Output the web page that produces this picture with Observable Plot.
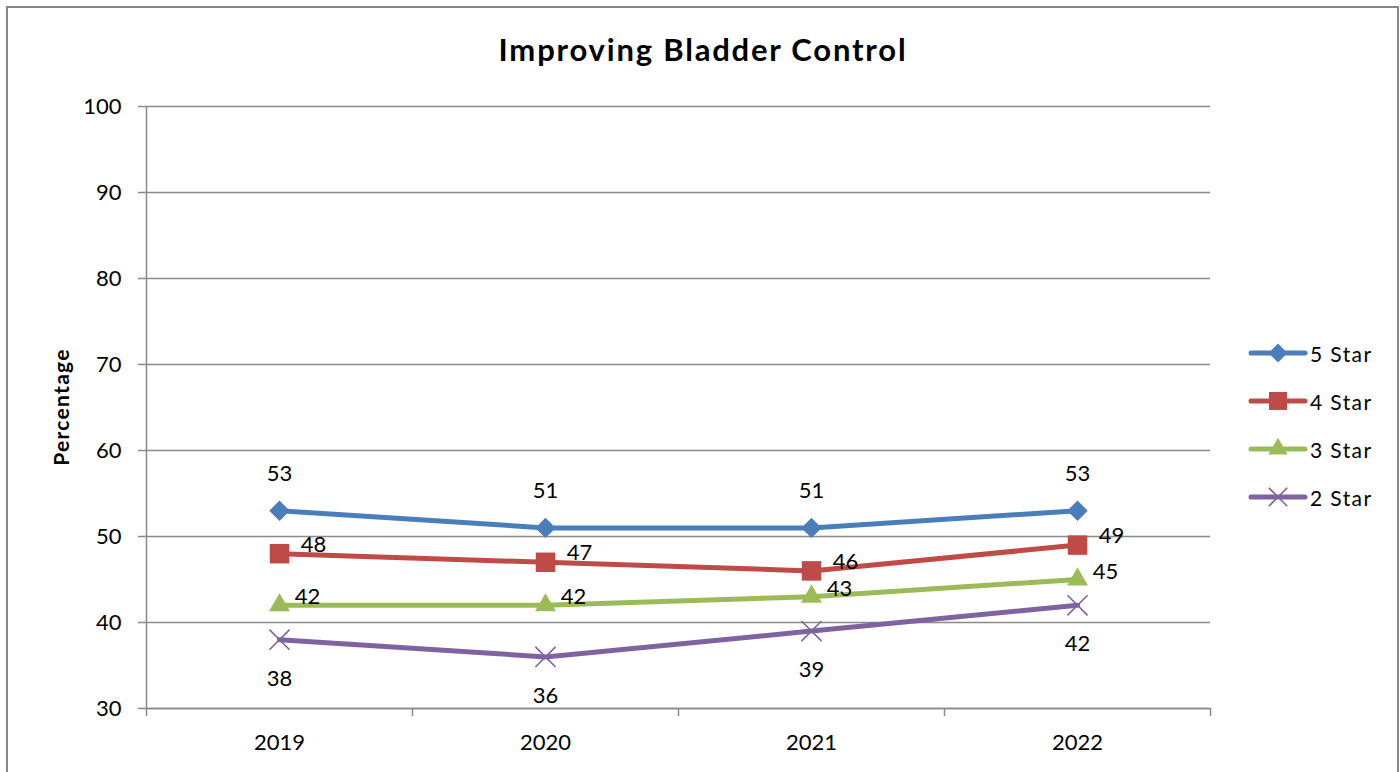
<!DOCTYPE html>
<html>
<head>
<meta charset="utf-8">
<script src="https://cdn.jsdelivr.net/npm/d3@7"></script>
<script src="https://cdn.jsdelivr.net/npm/@observablehq/plot@0.6"></script>
<style>
  html, body { margin:0; padding:0; background:#fff; overflow:hidden; }
  body { width:1400px; height:772px; position:relative; font-family: Lato, "Open Sans", sans-serif; }
  #frame { position:absolute; left:6px; top:6px; width:1393px; height:900px; border:2px solid #878787; box-sizing:border-box; }
  #chart { position:absolute; left:0; top:0; }
  #title { position:absolute; left:0; width:1406px; top:29px; text-align:center; font-weight:bold; font-size:31px; letter-spacing:1.8px; line-height:40px; color:#000; }
  #ylabel { position:absolute; left:60px; top:407px; transform:translate(-50%,-50%) rotate(-90deg); font-weight:bold; font-size:21px; letter-spacing:1.3px; white-space:nowrap; color:#000; }
  #legend { position:absolute; left:1248px; top:329px; }
  .item { display:flex; align-items:center; height:48px; font-size:21px; letter-spacing:1.4px; color:#000; }
  .item svg { display:block; margin-right:2px; }
</style>
</head>
<body>
<div id="frame"></div>
<div id="chart"></div>
<div id="title">Improving Bladder Control</div>
<div id="ylabel">Percentage</div>
<div id="legend"></div>
<script>
const years = ["2019", "2020", "2021", "2022"];
const seriesNames = ["5 Star", "4 Star", "3 Star", "2 Star"];
const star5 = [53, 51, 51, 53];
const star4 = [48, 47, 46, 49];
const star3 = [42, 42, 43, 45];
const star2 = [38, 36, 39, 42];
const yTicks = [30, 40, 50, 60, 70, 80, 90, 100];

const values = [star5, star4, star3, star2];
const colors = ["#4A7EBB", "#BE4B48", "#9BBB59", "#7F63A1"];
const symbols = ["diamond2", "square", "triangle", "times"];
const radii = [9.2, 11, 7.8, 9.2];
const labelDx = [0, 34, 28, 0];
const labelDy = [-37, -9, -8, 39];

const rows = [];
seriesNames.forEach((s, si) => {
  years.forEach((yr, i) => rows.push({series: s, si, year: yr, xi: i, value: values[si][i]}));
});

const gridColor = "#898989";

const marks = [
  Plot.gridY(yTicks, {stroke: gridColor, strokeOpacity: 1, strokeWidth: 1.5}),
  Plot.axisY(yTicks, {tickSize: 8, tickPadding: 17, stroke: gridColor, strokeWidth: 1.5, label: null, fontSize: 22}),
  Plot.axisX(years.map((d, i) => i), {tickSize: 0, tickPadding: 26, tickFormat: i => years[i], label: null, fontSize: 22}),
  Plot.axisX(d3.range(years.length + 1).map(i => i - 0.5), {tickSize: 8, tickFormat: () => "", stroke: gridColor, strokeWidth: 1.5, label: null}),
  Plot.ruleX([-0.5], {stroke: gridColor, strokeWidth: 1.5}),
  Plot.ruleY([30], {stroke: gridColor, strokeWidth: 1.5}),
  Plot.line(rows, {x: "xi", y: "value", z: "series", stroke: d => colors[d.si], strokeWidth: 5, strokeLinejoin: "round", strokeLinecap: "round"})
];
seriesNames.forEach((s, si) => {
  const sub = rows.filter(d => d.si === si);
  if (symbols[si] === "times") {
    marks.push(Plot.dot(sub, {x: "xi", y: "value", symbol: "times", r: radii[si], stroke: colors[si], strokeWidth: 1.6, fill: "none"}));
  } else {
    marks.push(Plot.dot(sub, {x: "xi", y: "value", symbol: symbols[si], r: radii[si], fill: colors[si], stroke: "none"}));
  }
  marks.push(Plot.text(sub, {x: "xi", y: "value", text: d => String(d.value), dx: labelDx[si], dy: labelDy[si], fill: "#000", fontSize: 22}));
});

const chart = Plot.plot({
  width: 1400,
  height: 772,
  marginLeft: 146,
  marginRight: 190,
  marginTop: 106,
  marginBottom: 64,
  style: {fontFamily: "Lato, 'Open Sans', sans-serif", fontSize: "22px", color: "#000", background: "transparent", overflow: "visible"},
  x: {type: "linear", domain: [-0.5, years.length - 0.5], axis: null},
  y: {domain: [30, 100], axis: null},
  marks
});
document.getElementById("chart").appendChild(chart);

// legend
const legend = d3.select("#legend");
const symMap = {diamond2: d3.symbolDiamond2, square: d3.symbolSquare, triangle: d3.symbolTriangle, times: d3.symbolTimes};
seriesNames.forEach((s, si) => {
  const item = legend.append("div").attr("class", "item");
  const svg = item.append("svg").attr("width", 60).attr("height", 24);
  svg.append("line").attr("x1", 3).attr("x2", 57).attr("y1", 12).attr("y2", 12)
    .attr("stroke", colors[si]).attr("stroke-width", 5).attr("stroke-linecap", "round");
  const size = Math.PI * radii[si] * radii[si] * 0.85;
  const p = svg.append("path").attr("transform", "translate(30,12)")
    .attr("d", d3.symbol(symMap[symbols[si]], size)());
  if (symbols[si] === "times") p.attr("fill", "none").attr("stroke", colors[si]).attr("stroke-width", 1.6);
  else p.attr("fill", colors[si]);
  item.append("span").text(s);
});
</script>
</body>
</html>
